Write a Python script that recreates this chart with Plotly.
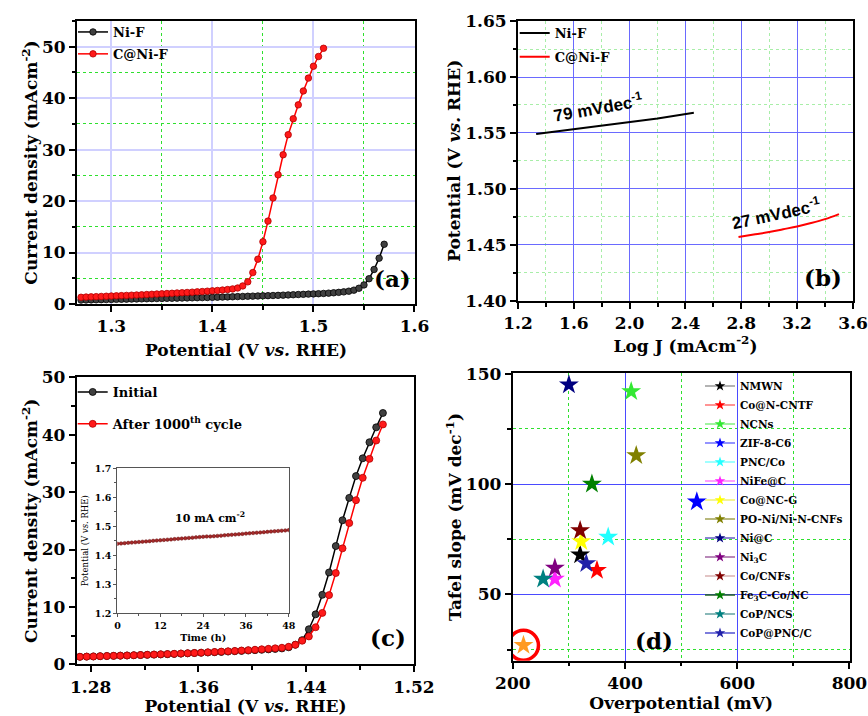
import plotly.graph_objects as go

SERIF = "DejaVu Serif"
SANS = "Liberation Sans"

# ---------------- Panel (a): LSV ----------------
a_pot_nif = [1.270, 1.275, 1.280, 1.285, 1.290, 1.295, 1.300, 1.305, 1.310, 1.315,
             1.320, 1.325, 1.330, 1.335, 1.340, 1.345, 1.350, 1.355, 1.360, 1.365,
             1.370, 1.375, 1.380, 1.385, 1.390, 1.395, 1.400, 1.405, 1.410, 1.415,
             1.420, 1.425, 1.430, 1.435, 1.440, 1.445, 1.450, 1.455, 1.460, 1.465,
             1.470, 1.475, 1.480, 1.485, 1.490, 1.495, 1.500, 1.505, 1.510, 1.515,
             1.520, 1.525, 1.530, 1.535, 1.540, 1.545, 1.550, 1.555, 1.560, 1.565,
             1.570]
a_j_nif = [0.75, 0.77, 0.79, 0.81, 0.83, 0.85, 0.87, 0.89, 0.91, 0.93,
           0.95, 0.97, 0.99, 1.01, 1.03, 1.05, 1.07, 1.09, 1.11, 1.13,
           1.15, 1.17, 1.19, 1.21, 1.23, 1.25, 1.28, 1.31, 1.34, 1.37,
           1.40, 1.43, 1.46, 1.49, 1.52, 1.55, 1.58, 1.61, 1.64, 1.67,
           1.71, 1.75, 1.79, 1.83, 1.87, 1.91, 1.95, 1.99, 2.04, 2.10,
           2.17, 2.25, 2.35, 2.48, 2.68, 3.05, 3.70, 4.90, 6.70, 8.90,
           11.60]
a_pot_cnif = [1.270, 1.275, 1.280, 1.285, 1.290, 1.295, 1.300, 1.305, 1.310, 1.315,
              1.320, 1.325, 1.330, 1.335, 1.340, 1.345, 1.350, 1.355, 1.360, 1.365,
              1.370, 1.375, 1.380, 1.385, 1.390, 1.395, 1.400, 1.405, 1.410, 1.415,
              1.420, 1.425, 1.430, 1.435, 1.440, 1.445, 1.450, 1.455, 1.460, 1.465,
              1.470, 1.475, 1.480, 1.485, 1.490, 1.495, 1.500, 1.505, 1.510]
a_j_cnif = [1.30, 1.34, 1.38, 1.42, 1.46, 1.50, 1.54, 1.58, 1.62, 1.66,
            1.70, 1.74, 1.78, 1.83, 1.88, 1.93, 1.98, 2.03, 2.08, 2.13,
            2.18, 2.23, 2.29, 2.35, 2.41, 2.48, 2.55, 2.62, 2.70, 2.80,
            2.92, 3.10, 3.50, 4.30, 6.10, 8.70, 12.10, 16.10, 20.60, 25.10,
            29.00, 32.90, 36.00, 38.70, 41.40, 43.90, 46.20, 48.10, 49.70]

# ---------------- Panel (b): Tafel ----------------
b_logj_nif = [1.33, 1.60, 2.00, 2.20, 2.46]
b_pot_nif = [1.549, 1.5535, 1.5595, 1.563, 1.568]
b_logj_cnif = [2.78, 2.90, 3.00, 3.10, 3.20, 3.30, 3.40, 3.50]
b_pot_cnif = [1.457, 1.4595, 1.4615, 1.464, 1.4665, 1.4695, 1.473, 1.4775]
b_slope_labels = ["79 mVdec<sup>-1</sup>", "27 mVdec<sup>-1</sup>"]
b_label_x = [1.77, 3.05]
b_label_y = [1.573, 1.4785]

# ---------------- Panel (c): stability ----------------
c_pot = [1.272, 1.277, 1.282, 1.287, 1.292, 1.297, 1.302, 1.307, 1.312, 1.317,
         1.322, 1.327, 1.332, 1.337, 1.342, 1.347, 1.352, 1.357, 1.362, 1.367,
         1.372, 1.377, 1.382, 1.387, 1.392, 1.397, 1.402, 1.407, 1.412, 1.417,
         1.422, 1.427, 1.432, 1.437, 1.442, 1.447, 1.452, 1.457, 1.462, 1.467,
         1.472, 1.477, 1.482, 1.487, 1.492, 1.497]
c_j_initial = [1.30, 1.33, 1.36, 1.40, 1.43, 1.46, 1.50, 1.53, 1.57, 1.60,
               1.64, 1.68, 1.72, 1.76, 1.80, 1.85, 1.90, 1.95, 2.00, 2.05,
               2.10, 2.15, 2.21, 2.27, 2.33, 2.39, 2.45, 2.52, 2.59, 2.67,
               2.76, 2.95, 3.40, 4.20, 6.10, 8.70, 12.10, 16.00, 20.60, 25.10,
               29.00, 32.80, 35.90, 38.70, 41.30, 43.80]
c_j_after = [1.30, 1.33, 1.36, 1.40, 1.43, 1.46, 1.50, 1.53, 1.57, 1.61,
             1.65, 1.69, 1.73, 1.77, 1.82, 1.87, 1.92, 1.97, 2.02, 2.08,
             2.14, 2.20, 2.26, 2.32, 2.39, 2.46, 2.53, 2.61, 2.69, 2.78,
             2.88, 3.05, 3.40, 4.10, 4.85, 6.45, 8.95, 12.05, 15.90, 20.20,
             24.60, 28.60, 32.50, 35.80, 39.00, 41.80]
inset_time = [0, 1, 2, 3, 4, 5, 6, 7, 8, 9, 10, 11, 12, 13, 14, 15, 16, 17, 18, 19,
              20, 21, 22, 23, 24, 25, 26, 27, 28, 29, 30, 31, 32, 33, 34, 35, 36, 37,
              38, 39, 40, 41, 42, 43, 44, 45, 46, 47, 48]
inset_pot = [1.440, 1.441, 1.442, 1.443, 1.444, 1.445, 1.446, 1.447, 1.448, 1.449,
             1.450, 1.451, 1.452, 1.453, 1.454, 1.455, 1.456, 1.457, 1.458, 1.459,
             1.460, 1.461, 1.462, 1.463, 1.464, 1.465, 1.465, 1.466, 1.467, 1.468,
             1.469, 1.470, 1.471, 1.472, 1.473, 1.474, 1.475, 1.476, 1.477, 1.478,
             1.479, 1.480, 1.481, 1.482, 1.483, 1.484, 1.485, 1.486, 1.487]

# ---------------- Panel (d): comparison ----------------
d_names = ["NMWN", "Co@N-CNTF", "NCNs", "ZIF-8-C6", "PNC/Co", "NiFe@C", "Co@NC-G",
           "PO-Ni/Ni-N-CNFs", "Ni@C", "Ni<sub>3</sub>C", "Co/CNFs",
           "Fe<sub>3</sub>C-Co/NC", "CoP/NCS", "CoP@PNC/C"]
d_overpot = [320, 350, 411, 528, 370, 275, 322, 420, 300, 275, 320, 341, 254, 331]
d_tafel = [68, 61, 142, 92, 76, 57, 74, 113, 145, 62, 79, 100, 57, 64]
d_colors = ["#000000", "#ff0000", "#33e833", "#0000ff", "#22ffff", "#ff22ff", "#ffff00",
            "#808000", "#000080", "#800080", "#800000", "#008000", "#008080", "#2020a8"]
d_line_colors = ["#9a9a9a", "#ff7070", "#80f080", "#7070ff", "#80ffff", "#ff80ff", "#f0f070",
                 "#a0a050", "#6060c0", "#a060a0", "#d8b0b0", "#206020", "#60a0a0", "#5050d0"]
this_work_overpot = [219]
this_work_tafel = [27]

fig = go.Figure()


def ball(color, edge, size):
    return dict(symbol="circle", size=size, color=color, line=dict(color=edge, width=0.8))


# (a)
fig.add_trace(go.Scatter(x=a_pot_nif, y=a_j_nif, mode="lines+markers", name="Ni-F",
                         line=dict(color="black", width=1.5), marker=ball("#404040", "black", 6.5),
                         xaxis="x", yaxis="y", legend="legend", legendgroup="a1"))
fig.add_trace(go.Scatter(x=a_pot_cnif, y=a_j_cnif, mode="lines+markers", name="C@Ni-F",
                         line=dict(color="red", width=1.5), marker=ball("#ff1a1a", "#b00000", 6.5),
                         xaxis="x", yaxis="y", legend="legend", legendgroup="a2"))
# (b)
fig.add_trace(go.Scatter(x=b_logj_nif, y=b_pot_nif, mode="lines", name="Ni-F",
                         line=dict(color="black", width=2), xaxis="x2", yaxis="y2",
                         legend="legend2", legendgroup="b1"))
fig.add_trace(go.Scatter(x=b_logj_cnif, y=b_pot_cnif, mode="lines", name="C@Ni-F",
                         line=dict(color="red", width=2, shape="spline"), xaxis="x2", yaxis="y2",
                         legend="legend2", legendgroup="b2"))
# (c)
fig.add_trace(go.Scatter(x=c_pot, y=c_j_initial, mode="lines+markers", name="Initial",
                         line=dict(color="black", width=1.5), marker=ball("#404040", "black", 7),
                         xaxis="x3", yaxis="y3", legend="legend3", legendgroup="c1"))
fig.add_trace(go.Scatter(x=c_pot, y=c_j_after, mode="lines+markers",
                         name="After 1000<sup>th</sup> cycle",
                         line=dict(color="red", width=1.5), marker=ball("#ff1a1a", "#b00000", 7),
                         xaxis="x3", yaxis="y3", legend="legend3", legendgroup="c2"))
# inset
fig.add_trace(go.Scatter(x=inset_time, y=inset_pot, mode="lines+markers", showlegend=False,
                         line=dict(color="#8b1a1a", width=1),
                         marker=dict(size=3.5, color="#a52a2a", line=dict(color="#6b0f0f", width=0.5)),
                         xaxis="x5", yaxis="y5"))
# (d) points
for nm, xv, yv, col in zip(d_names, d_overpot, d_tafel, d_colors):
    fig.add_trace(go.Scatter(x=[xv], y=[yv], mode="markers", showlegend=False, name=nm,
                             marker=dict(symbol="star", size=15, color=col),
                             xaxis="x4", yaxis="y4"))
# (d) legend entries
for nm, col, lcol in zip(d_names, d_colors, d_line_colors):
    fig.add_trace(go.Scatter(x=[None], y=[None], mode="lines+markers", name=nm,
                             line=dict(color=lcol, width=1.5),
                             marker=dict(symbol="star", size=8, color=col),
                             xaxis="x4", yaxis="y4", legend="legend4"))
# this work
fig.add_trace(go.Scatter(x=this_work_overpot, y=this_work_tafel, mode="markers", showlegend=False,
                         marker=dict(symbol="star", size=15, color="#ff9a22"),
                         xaxis="x4", yaxis="y4"))
fig.add_trace(go.Scatter(x=this_work_overpot, y=this_work_tafel, mode="markers", showlegend=False,
                         marker=dict(symbol="circle-open", size=30, color="red",
                                     line=dict(color="red", width=3.5)),
                         xaxis="x4", yaxis="y4"))

W, H = 868, 716


def dx(a, b):
    return [a / W, b / W]


def dy(top, bottom):
    return [1 - bottom / H, 1 - top / H]


TICKFONT = dict(family=SERIF, size=17, color="black", weight="bold")
TITLEFONT = dict(family=SERIF, size=17, color="black", weight="bold")


def axis(domain, rng, tick0, dtick, fmt, minor_dtick, anchor, title=None,
         grid=None, gridw=1.0, minor_grid=None, tickfont=TICKFONT, titlefont=TITLEFONT,
         lw=2, lcolor="black", ticklen=6, minorlen=3.5, tw=2, standoff=None):
    d = dict(domain=domain, range=rng, tick0=tick0, dtick=dtick, tickformat=fmt,
             anchor=anchor, showline=True, linecolor=lcolor, linewidth=lw, mirror=True,
             ticks="outside", ticklen=ticklen, tickwidth=tw, tickcolor=lcolor,
             tickfont=tickfont, zeroline=False, showgrid=grid is not None, automargin=False,
             minor=dict(ticks="outside", ticklen=minorlen, tickwidth=max(1, tw - 0.5),
                        tickcolor=lcolor, dtick=minor_dtick, tick0=tick0,
                        showgrid=minor_grid is not None))
    if grid is not None:
        d["gridcolor"] = grid
        d["gridwidth"] = gridw
    if minor_grid is not None:
        d["minor"].update(gridcolor=minor_grid, griddash="dot", gridwidth=1)
    if title is not None:
        d["title"] = dict(text=title, font=titlefont)
        if standoff is not None:
            d["title"]["standoff"] = standoff
    return d


POT_TITLE = "Potential (V <i>vs.</i> RHE)"
J_TITLE = "Current density (mAcm<sup>-2</sup>)"

layout = dict(
    width=W, height=H, margin=dict(l=0, r=0, t=0, b=0, pad=0, autoexpand=False),
    paper_bgcolor="white", plot_bgcolor="white", showlegend=True,
    xaxis=axis(dx(77, 415), [1.266, 1.6005], 1.3, 0.1, ".1f", 0.05, "y", POT_TITLE,
               grid="#d0d0ff", gridw=1.5, minor_grid="#2ee02e", standoff=9),
    yaxis=axis(dy(21, 304), [-0.01, 55], 0, 10, "d", 5, "x", J_TITLE,
               grid="#d0d0ff", gridw=1.5, minor_grid="#2ee02e", standoff=0),
    xaxis2=axis(dx(518, 853), [1.1999, 3.6005], 1.2, 0.4, ".1f", 0.2, "y2",
                "Log J (mAcm<sup>-2</sup>)", grid="#6a6aff", gridw=1, minor_grid="#a8eea8",
                standoff=2),
    yaxis2=axis(dy(20.7, 301), [1.3999, 1.6503], 1.4, 0.05, ".2f", 0.025, "x2", POT_TITLE,
                grid="#6a6aff", gridw=1, minor_grid="#a8eea8", standoff=0),
    xaxis3=axis(dx(76.7, 414.3), [1.2696, 1.5203], 1.28, 0.08, ".2f", 0.04, "y3", POT_TITLE,
                standoff=8),
    yaxis3=axis(dy(377.3, 664.3), [-0.01, 50.02], 0, 10, "d", 5, "x3", J_TITLE, standoff=0),
    xaxis4=axis(dx(512.7, 849.7), [199.8, 800.5], 200, 200, "d", 100, "y4",
                "Overpotential (mV)", grid="#4a4aff", gridw=1, minor_grid="#2ee02e", standoff=3),
    yaxis4=axis(dy(373.3, 660.7), [20, 150.2], 0, 50, "d", 25, "x4",
                "Tafel slope (mV dec<sup>-1</sup>)", grid="#4a4aff", gridw=1,
                minor_grid="#2ee02e", standoff=0),
    xaxis5=axis(dx(117.3, 289), [-0.05, 48.05], 0, 12, "d", 6, "y5", "Time (h)",
                tickfont=dict(family=SERIF, size=9.5, color="black", weight="bold"),
                titlefont=dict(family=SERIF, size=9.5, color="black", weight="bold"),
                lw=1.2, lcolor="#555555", ticklen=3, minorlen=2, tw=1, standoff=4),
    yaxis5=axis(dy(468.3, 613.3), [1.2, 1.7003], 1.2, 0.1, ".1f", 0.05, "x5", POT_TITLE,
                tickfont=dict(family=SERIF, size=9.5, color="black", weight="bold"),
                titlefont=dict(family=SERIF, size=8.5, color="black", weight="normal"),
                lw=1.2, lcolor="#555555", ticklen=3, minorlen=2, tw=1, standoff=4),
)

LEGFONT = dict(family=SERIF, size=13, color="black", weight="bold")
layout["legend"] = dict(x=73 / W, y=1 - 17 / H, xanchor="left", yanchor="top",
                        font=LEGFONT, bgcolor="rgba(0,0,0,0)", tracegroupgap=2)
layout["legend2"] = dict(x=(554.7 - 40) / W, y=1 - 18 / H, xanchor="left", yanchor="top",
                         font=LEGFONT, bgcolor="rgba(0,0,0,0)", tracegroupgap=4)
layout["legend3"] = dict(x=(112.7 - 40) / W, y=1 - 377 / H, xanchor="left", yanchor="top",
                         font=LEGFONT, bgcolor="rgba(0,0,0,0)", tracegroupgap=12)
layout["legend4"] = dict(x=(740 - 40) / W, y=1 - 371.5 / H, xanchor="left", yanchor="top",
                         font=dict(family=SERIF, size=10.5, color="black", weight="bold"),
                         bgcolor="rgba(0,0,0,0)")

annotations = []
for txt, px, py in [("(a)", 392, 278), ("(b)", 823, 277), ("(c)", 388, 637), ("(d)", 654, 640)]:
    annotations.append(dict(text=txt, x=px / W, y=1 - py / H, xref="paper", yref="paper",
                            showarrow=False, xanchor="center", yanchor="middle",
                            font=dict(family=SERIF, size=23, color="black", weight="bold")))
for txt, xv, yv, ang in zip(b_slope_labels, b_label_x, b_label_y, [-10, -12]):
    annotations.append(dict(text=txt, x=xv, y=yv, xref="x2", yref="y2", showarrow=False,
                            textangle=ang,
                            font=dict(family=SANS, size=17, color="black", weight="bold")))
annotations.append(dict(text="10 mA cm<sup>-2</sup>", x=25.9, y=1.532, xref="x5", yref="y5",
                        showarrow=False,
                        font=dict(family=SERIF, size=11, color="black", weight="bold")))
layout["annotations"] = annotations

fig.update_layout(**layout)
fig.write_html("out.html", config={"displayModeBar": False},
               post_script="document.body.style.margin='0';document.body.style.padding='0';")
